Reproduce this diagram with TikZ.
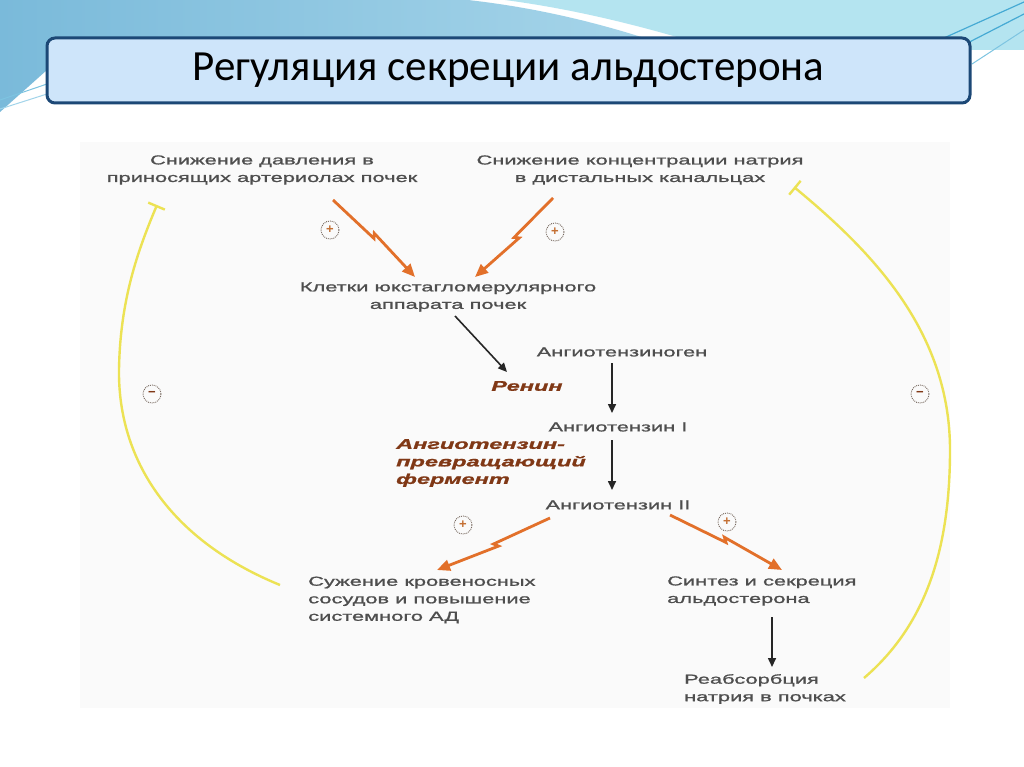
\documentclass[tikz,border=0pt]{standalone}
\usepackage{fontspec}
\setmainfont{Liberation Sans}
\newfontfamily\titlefont{Carlito}
\newfontfamily\diagfont[FakeStretch=1.68,FakeBold=1.2]{Liberation Sans}
\usetikzlibrary{
  arrows.meta,
  calc
}
\definecolor{TitleFill}{RGB}{206,229,250}
\definecolor{TitleEdge}{RGB}{28,72,118}
\definecolor{SwooshBlue}{RGB}{122,186,218}
\definecolor{SwooshPale}{RGB}{168,214,234}
\definecolor{SwooshCyan}{RGB}{180,228,240}
\definecolor{StreakBlue}{RGB}{70,170,212}
\definecolor{LabelGray}{RGB}{78,78,78}
\definecolor{EnzymeBrown}{RGB}{128,56,22}
\definecolor{ZapOrange}{RGB}{226,112,42}
\definecolor{FeedYellow}{RGB}{236,226,84}
\definecolor{SignDot}{RGB}{118,104,94}
\definecolor{PlusBrown}{RGB}{196,112,52}
\definecolor{PanelGray}{RGB}{250,250,250}
\tikzset{
  titlebox/.style={
    draw=TitleEdge,
    fill=TitleFill,
    line width=3pt,
    rounded corners=8pt,
    minimum width=923pt,
    minimum height=65pt,
    font={\titlefont\fontsize{43}{50}\selectfont}
  },
  term/.style={
    font={\diagfont\fontsize{13}{17.5}\selectfont},
    text=LabelGray,
    inner sep=0pt,
    align=center
  },
  termleft/.style={term,align=left},
  enzyme/.style={
    font={\diagfont\bfseries\itshape\fontsize{14}{17.5}\selectfont},
    text=EnzymeBrown,
    inner sep=0pt,
    align=left
  },
  signmark/.style={
    circle,
    draw=SignDot,
    densely dotted,
    line width=0.9pt,
    minimum size=18pt,
    inner sep=0pt,
    font={\bfseries\fontsize{13}{13}\selectfont}
  },
  plusmark/.style={signmark,text=PlusBrown},
  minusmark/.style={signmark,text=EnzymeBrown},
  steparrow/.style={-{Triangle[length=9pt,width=8pt]},line width=1.6pt,draw=black!85},
  zaparrow/.style={-{Triangle[length=13pt,width=11pt]},line width=2.8pt,draw=ZapOrange},
  feedback/.style={-{Bar[width=18pt,line width=2.4pt]},line width=2.4pt,draw=FeedYellow}
}
\newcommand\zap[2]{\draw[zaparrow] (#1) -- ($(#1)!0.5!(#2)$) -- ($(#1)!0.47!(#2)!4pt!90:(#2)$) -- (#2);}

\begin{document}
\begin{tikzpicture}[x=1pt,y=-1pt]
  \useasboundingbox (0,0) rectangle (1024,767);
  \fill[white] (0,0) rectangle (1024,767);

  \shade[left color=SwooshBlue,right color=SwooshPale] (0,0) -- (468,0) .. controls (540,8) and (610,25) .. (680,50) -- (680,70) -- (47,70) -- (0,112) -- cycle;
  \fill[SwooshCyan] (505,0) .. controls (580,10) and (650,28) .. (720,50) -- (1024,50) -- (1024,0) -- cycle;
  \draw[StreakBlue,line width=1.2pt] (1024,2) -- (935,42);
  \draw[StreakBlue,line width=1.2pt] (1024,14) -- (950,52);
  \draw[StreakBlue!70,line width=1pt] (1024,30) -- (972,64);
  \draw[StreakBlue!70,line width=1pt] (0,100) -- (47,84);
  \draw[StreakBlue!50,line width=1pt] (0,109) -- (47,94);

  \node[titlebox] (title) at (508.5,70.5) {Регуляция секреции альдостерона};

  \fill[PanelGray] (80,142) rectangle (950,708);

  \node[term] (press) at (262,170) {Снижение давления в\\приносящих артериолах почек};
  \node[term] (sodium) at (640,170) {Снижение концентрации натрия\\в дистальных канальцах};
  \node[term] (jga) at (448,297) {Клетки юкстагломерулярного\\аппарата почек};
  \node[term] (agt) at (622,352) {Ангиотензиноген};
  \node[enzyme] (renin) at (527,386) {Ренин};
  \node[term] (ang1) at (618,427) {Ангиотензин I};
  \node[enzyme,anchor=west] (ace) at (396,463) {Ангиотензин-\\превращающий\\фермент};
  \node[term] (ang2) at (618,505) {Ангиотензин II};
  \node[termleft,anchor=west] (vaso) at (308,600) {Сужение кровеносных\\сосудов и повышение\\системного АД};
  \node[termleft,anchor=west] (aldo) at (667,591) {Синтез и секреция\\альдостерона};
  \node[termleft,anchor=west] (reab) at (684,689) {Реабсорбция\\натрия в почках};

  \node[plusmark] (plusA) at (330,230) {+};
  \node[plusmark] (plusB) at (555,232) {+};
  \node[plusmark] (plusC) at (463,525) {+};
  \node[plusmark] (plusD) at (727,522) {+};
  \node[minusmark] (minusA) at (152,394) {−};
  \node[minusmark] (minusB) at (920,394) {−};

  \coordinate (pressOut) at (333,200);
  \coordinate (jgaInL) at (415,277);
  \coordinate (sodiumOut) at (553,198);
  \coordinate (jgaInR) at (475,277);
  \coordinate (jgaOut) at (455,316);
  \coordinate (reninIn) at (507,372);
  \coordinate (agtOut) at (612,363);
  \coordinate (ang1In) at (612,413);
  \coordinate (ang1Out) at (612,440);
  \coordinate (ang2In) at (612,490);
  \coordinate (ang2OutL) at (550,518);
  \coordinate (vasoIn) at (437,570);
  \coordinate (ang2OutR) at (670,515);
  \coordinate (aldoIn) at (782,570);
  \coordinate (aldoOut) at (772,617);
  \coordinate (reabIn) at (772,667);
  \coordinate (vasoBack) at (280,585);
  \coordinate (pressBack) at (157,205);
  \coordinate (reabBack) at (864,678);
  \coordinate (sodiumBack) at (794,187);

  \zap{pressOut}{jgaInL}
  \zap{sodiumOut}{jgaInR}
  \zap{ang2OutL}{vasoIn}
  \zap{ang2OutR}{aldoIn}

  \draw[steparrow] (jgaOut) -- (reninIn);
  \draw[steparrow] (agtOut) -- (ang1In);
  \draw[steparrow] (ang1Out) -- (ang2In);
  \draw[steparrow] (aldoOut) -- (reabIn);

  \draw[feedback] (vasoBack) .. controls (170,540) and (118,460) .. (119,370) .. controls (120,300) and (138,250) .. (pressBack);
  \draw[feedback] (reabBack) .. controls (920,630) and (950,560) .. (950,450) .. controls (950,330) and (870,250) .. (sodiumBack);
\end{tikzpicture}
\end{document}
